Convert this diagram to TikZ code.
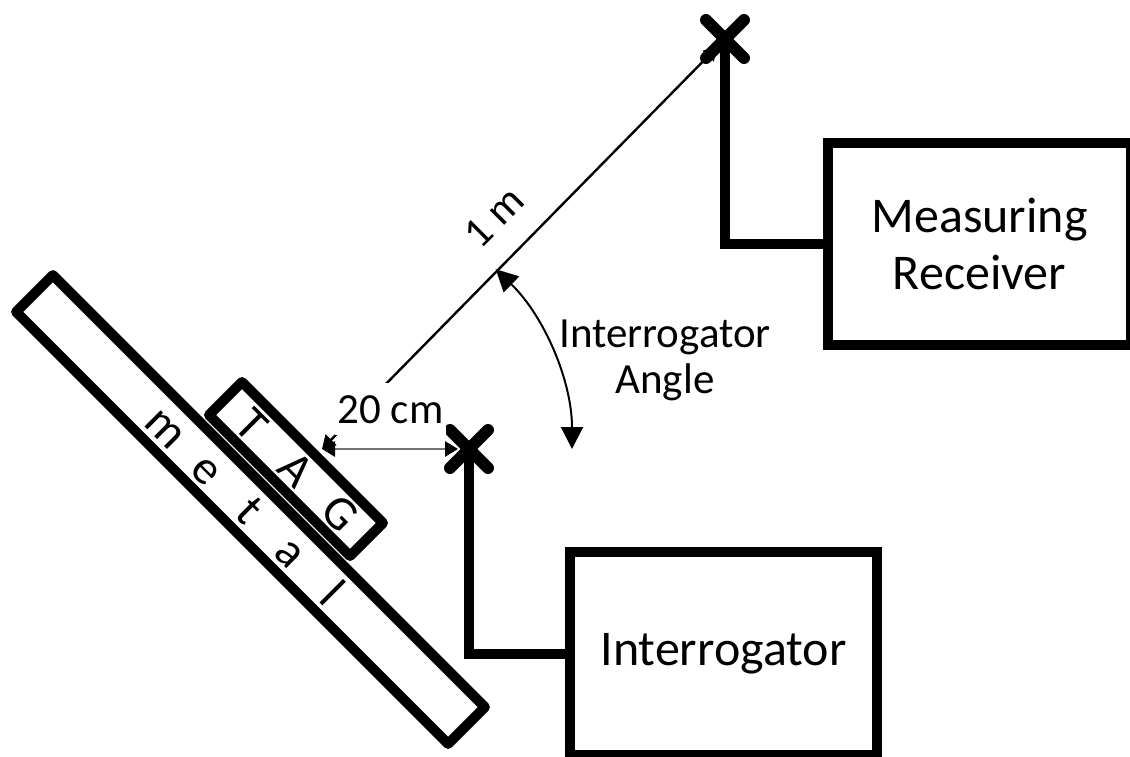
\documentclass[tikz,border=0pt]{standalone}
\usepackage{fontspec}
\setmainfont{Carlito}
\usetikzlibrary{arrows.meta,calc}
\newcommand\mlsp[1]{\makebox[29.3pt]{#1}}
\newcommand\tlsp[1]{\makebox[31.5pt]{#1}}
\tikzset{
  smalltip/.tip={Triangle[length=6.5pt,width=7.5pt,color=black]},
  largetip/.tip={Triangle[length=11pt,width=11pt]}
}
\begin{document}
\begin{tikzpicture}[x=0.5pt,y=-0.5pt,
  box/.style={draw, line width=5pt, inner sep=0pt, outer sep=0pt, align=center,
    font=\fontsize{25}{28.5}\selectfont},
  bar/.style={draw, line width=5pt, line join=round, inner sep=0pt, rotate=-45,
    font=\fontsize{24}{26}\selectfont},
  wire/.style={line width=5pt},
  xarm/.style={line width=6pt, line cap=round},
  lbl/.style={font=\fontsize{21.5}{23}\selectfont, inner sep=1.5pt}]
\useasboundingbox (0,0) rectangle (1130,756);

% metal plate and tag
\node[bar, minimum width=305.5pt, minimum height=26pt] (metal) at (250.5,509.5)
  {\mlsp{m}\mlsp{e}\mlsp{t}\mlsp{a}\mlsp{l}};
\node[bar, minimum width=99.7pt, minimum height=23.3pt] (tag) at (296,469)
  {\tlsp{T}\tlsp{A}\tlsp{G}};

% boxes
\node[box, minimum width=151.5pt, minimum height=101pt] (mr) at (979.5,244) {Measuring\\Receiver};
\node[box, minimum width=153.5pt, minimum height=101.5pt] (ia) at (723.5,653.5) {Interrogator};

% antennas
\coordinate (ant1) at (725,39);
\coordinate (ant2) at (469,449);
\coordinate (tagpt) at (322,449);

\draw[wire] (ant1) |- (mr.west);
\draw[wire] (ant2) |- (ia.west);
\foreach \a in {ant1,ant2}{
  \draw[xarm] ($(\a)+(-19,-19)$) -- ($(\a)+(19,19)$);
  \draw[xarm] ($(\a)+(19,-19)$) -- ($(\a)+(-19,19)$);
}

% distance 1 m
\draw[line width=1.2pt, smalltip-smalltip, shorten >=5.5pt] (tagpt) -- (ant1);
% distance 20 cm
\draw[line width=1.4pt, draw=black!55, smalltip-smalltip, shorten >=5.5pt] (tagpt) -- (ant2);

% angle arc
\coordinate (arcA) at ($(tagpt)+(-46:250)$);
\draw[line width=1pt, largetip-largetip] (arcA) arc[start angle=-46, end angle=0, radius=250];

% labels
\node[lbl, rotate=45] (onem) at (494,217) {1 m};
\node[lbl, fill=white, anchor=base, inner ysep=6pt] (twenty) at (390.5,423) {20 cm};
\node[lbl, align=center] (anglbl) at (665,360) {Interrogator\\Angle};
\end{tikzpicture}
\end{document}
